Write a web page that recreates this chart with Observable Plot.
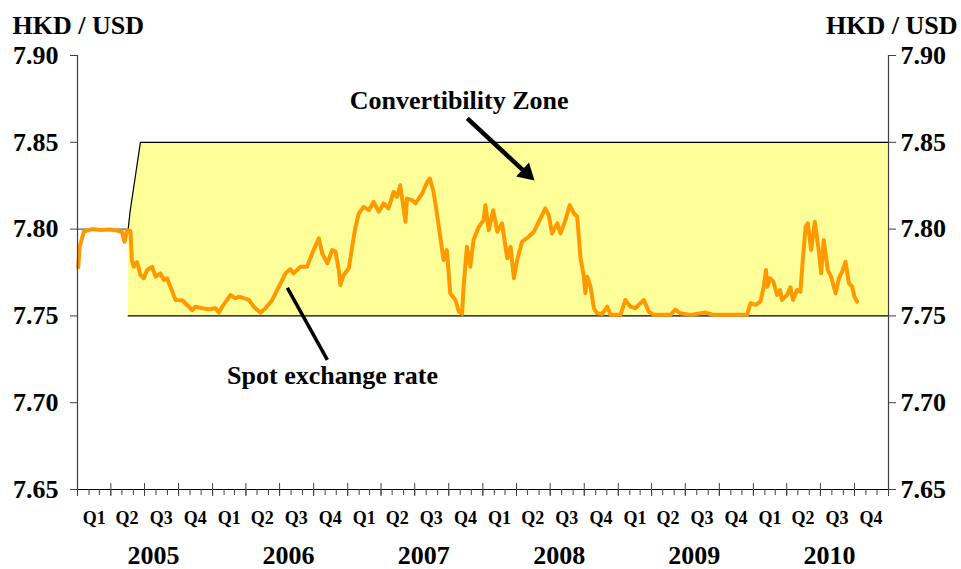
<!DOCTYPE html>
<html><head><meta charset="utf-8">
<script src="https://cdn.jsdelivr.net/npm/d3@7"></script>
<script src="https://cdn.jsdelivr.net/npm/@observablehq/plot@0.6"></script>
<style>body{margin:0;background:#fff} svg{display:block} svg text{font-family:'Liberation Serif','Times New Roman',serif !important;font-weight:bold}</style>
</head><body><div id="chart"></div>
<script>
// ---- data ----
const spotDates = [
"2005-01-03","2005-01-07","2005-01-18","2005-02-09","2005-03-04","2005-03-31","2005-04-21","2005-05-01","2005-05-08","2005-05-15",
"2005-05-24","2005-05-28","2005-06-02","2005-06-11","2005-06-20","2005-06-29","2005-07-08","2005-07-22","2005-07-31","2005-08-13",
"2005-08-22","2005-08-31","2005-09-14","2005-09-23","2005-10-11","2005-10-24","2005-11-07","2005-11-16","2005-12-04","2005-12-22",
"2006-01-09","2006-01-18","2006-01-27","2006-02-09","2006-02-18","2006-03-04","2006-03-13","2006-03-26","2006-04-09","2006-04-22",
"2006-05-10","2006-05-24","2006-06-11","2006-06-29","2006-07-17","2006-07-30","2006-08-08","2006-08-26","2006-09-13","2006-09-27",
"2006-10-15","2006-10-24","2006-11-07","2006-11-20","2006-11-29","2006-12-08","2006-12-12","2006-12-21","2007-01-04","2007-01-13",
"2007-01-22","2007-01-31","2007-02-13","2007-02-27","2007-03-12","2007-03-26","2007-04-08","2007-04-21","2007-05-05","2007-05-14",
"2007-05-23","2007-06-06","2007-06-10","2007-06-24","2007-07-03","2007-07-21","2007-08-04","2007-08-11","2007-08-21","2007-08-30",
"2007-09-08","2007-09-17","2007-09-26","2007-10-05","2007-10-19","2007-10-28","2007-11-06","2007-11-10","2007-11-19","2007-11-28",
"2007-12-07","2007-12-21","2008-01-03","2008-01-08","2008-01-17","2008-01-29","2008-02-09","2008-02-22","2008-03-07","2008-03-16",
"2008-03-25","2008-04-03","2008-04-16","2008-05-04","2008-05-18","2008-05-31","2008-06-18","2008-06-27","2008-07-06","2008-07-20",
"2008-07-29","2008-08-11","2008-08-23","2008-09-03","2008-09-12","2008-09-21","2008-09-30","2008-10-04","2008-10-09","2008-10-18",
"2008-10-27","2008-11-05","2008-11-18","2008-12-02","2008-12-11","2009-01-07","2009-01-20","2009-02-03","2009-02-16","2009-03-11",
"2009-03-24","2009-04-07","2009-05-22","2009-06-04","2009-06-18","2009-07-15","2009-08-24","2009-09-16","2009-12-15","2009-12-24",
"2010-01-07","2010-01-20","2010-01-29","2010-02-04","2010-02-08","2010-02-15","2010-02-24","2010-03-06","2010-03-14","2010-03-19",
"2010-04-02","2010-04-11","2010-04-18","2010-04-29","2010-05-08","2010-05-14","2010-05-22","2010-05-28","2010-06-06","2010-06-16",
"2010-06-27","2010-07-03","2010-07-10","2010-07-21","2010-07-30","2010-08-11","2010-08-20","2010-08-29","2010-09-07","2010-09-16",
"2010-09-25","2010-10-01","2010-10-08"
];
const spotValues = [
7.778,7.790,7.7985,7.800,7.7995,7.7998,7.7990,7.7985,7.7927,7.7995,
7.799,7.782,7.7783,7.781,7.7736,7.7717,7.7764,7.7783,7.7726,7.7745,
7.7707,7.7717,7.764,7.7592,7.759,7.7563,7.7534,7.7553,7.7544,7.7538,
7.7544,7.7519,7.7553,7.7592,7.762,7.7602,7.7611,7.7602,7.7592,7.7553,
7.7519,7.7544,7.7592,7.7668,7.7745,7.777,7.7745,7.7783,7.7783,7.786,
7.7947,7.786,7.7803,7.7879,7.787,7.7764,7.7678,7.7736,7.7774,7.7898,
7.8013,7.809,7.8128,7.8109,7.8157,7.81,7.8148,7.8119,7.8214,7.8186,
7.8253,7.8042,7.8176,7.8167,7.8148,7.8205,7.8272,7.8291,7.8214,7.809,
7.7956,7.7822,7.7879,7.763,7.7592,7.7525,7.7511,7.7668,7.7898,7.7783,
7.7937,7.8013,7.8052,7.8138,7.7994,7.8109,7.7985,7.8033,7.7832,7.7898,
7.7717,7.7822,7.7927,7.7956,7.7985,7.8042,7.8119,7.808,7.7975,7.8033,
7.7975,7.8052,7.8138,7.809,7.8071,7.7832,7.7726,7.763,7.7726,7.7668,
7.7544,7.7515,7.7511,7.7553,7.7506,7.7506,7.7592,7.7553,7.7544,7.7592,
7.7525,7.7506,7.7506,7.7536,7.7515,7.7506,7.7519,7.7506,7.7506,7.7573,
7.7563,7.7582,7.7668,7.7764,7.7668,7.7717,7.7697,7.762,7.7649,7.7592,
7.762,7.7665,7.7592,7.7649,7.764,7.7812,7.8013,7.8033,7.7879,7.8042,
7.787,7.7745,7.7937,7.7764,7.7726,7.763,7.7717,7.7755,7.7812,7.7688,
7.7668,7.7611,7.7582
];
const zoneDates = ["2005-05-18","2005-05-23","2005-05-30","2005-06-06","2005-06-13","2005-06-20","2010-12-31"];
const zoneUpper = [7.80, 7.81, 7.82, 7.83, 7.84, 7.85, 7.85];
const zoneLower = 7.75;
const pegDates = ["2005-01-01", "2005-05-18"];
const pegLevel = 7.80;
const years = [2005, 2006, 2007, 2008, 2009, 2010];
const quarterLabels = ["Q1", "Q2", "Q3", "Q4"];
const yTicks = [7.65, 7.70, 7.75, 7.80, 7.85, 7.90];
const unitLabel = "HKD / USD";
const zoneLabel = {text: "Convertibility Zone", date: "2007-10-29", value: 7.874};
const spotLabel = {text: "Spot exchange rate", date: "2006-11-21", value: 7.7155};
const zoneArrow = {x1: "2007-11-20", y1: 7.8638, x2: "2008-05-09", y2: 7.8299};
const spotPointer = {x1: "2006-07-22", y1: 7.7661, x2: "2006-11-07", y2: 7.7247};

// ---- build ----
const parse = d3.utcParse("%Y-%m-%d");
const spot = spotDates.map((d, i) => ({date: parse(d), value: spotValues[i]}));
const zone = zoneDates.map((d, i) => ({date: parse(d), upper: zoneUpper[i], lower: zoneLower}));
const peg = pegDates.map(d => ({date: parse(d), value: pegLevel}));
const xStart = new Date(Date.UTC(years[0], 0, 1));
const xEnd = new Date(Date.UTC(years[years.length - 1] + 1, 0, 1));
const months = d3.utcMonth.range(xStart, d3.utcDay.offset(xEnd, 1));
const quarters = d3.utcMonth.every(3).range(xStart, d3.utcDay.offset(xEnd, 1));
const qData = years.flatMap(y => quarterLabels.map((q, i) => ({date: new Date(Date.UTC(y, i * 3 + 1, 15)), label: q})));
const yData = years.map(y => ({date: new Date(Date.UTC(y, 6, 1)), label: String(y)}));
const P = o => ({x1: parse(o.x1), y1: o.y1, x2: parse(o.x2), y2: o.y2});
const font = "'Liberation Serif', 'Times New Roman', serif";
const axisColor = "#404040";

const chart = Plot.plot({
  width: 961, height: 569,
  marginLeft: 77, marginRight: 73, marginTop: 55, marginBottom: 80,
  style: {fontFamily: font, fontWeight: "bold", background: "white", color: "black", overflow: "visible"},
  x: {type: "utc", domain: [xStart, xEnd], axis: null},
  y: {domain: [7.65, 7.90], axis: null},
  marks: [
    Plot.areaY(zone, {x: "date", y1: "lower", y2: "upper", fill: "#FFFF99"}),
    Plot.line(zone, {x: "date", y: "upper", stroke: "black", strokeWidth: 1.2}),
    Plot.line(zone, {x: "date", y: "lower", stroke: "black", strokeWidth: 1.2}),
    Plot.line(peg, {x: "date", y: "value", stroke: "#333", strokeWidth: 1}),
    Plot.line(spot, {x: "date", y: "value", stroke: "#FF9900", strokeWidth: 4, strokeLinejoin: "round", strokeLinecap: "round"}),
    Plot.ruleX([xStart, xEnd], {stroke: axisColor, strokeWidth: 1.2}),
    Plot.ruleY([yTicks[0]], {stroke: "black", strokeWidth: 1.2}),
    Plot.axisY({anchor: "left", ticks: yTicks, tickSize: 7, tickPadding: 12, tickFormat: d3.format(".2f"), fontSize: 26, fontWeight: "bold", fontFamily: font, stroke: axisColor}),
    Plot.axisY({anchor: "right", ticks: yTicks, tickSize: 7, tickPadding: 5, tickFormat: d3.format(".2f"), fontSize: 26, fontWeight: "bold", fontFamily: font, stroke: axisColor}),
    Plot.axisX({ticks: months, tickSize: 6, tickFormat: () => "", stroke: axisColor}),
    Plot.axisX({ticks: quarters, tickSize: 7, tickFormat: () => "", stroke: axisColor}),
    Plot.axisX({ticks: quarters, tickSize: -6, tickFormat: () => "", stroke: axisColor}),
    Plot.text(qData, {x: "date", text: "label", frameAnchor: "bottom", dy: 34, fontSize: 18, fontWeight: "bold", fontFamily: font}),
    Plot.text(yData, {x: "date", text: "label", frameAnchor: "bottom", dy: 74, dx: 9, fontSize: 26, fontWeight: "bold", fontFamily: font}),
    Plot.text([unitLabel], {frameAnchor: "top-left", dx: -65, dy: -40, textAnchor: "start", fontSize: 26, fontWeight: "bold", fontFamily: font}),
    Plot.text([unitLabel], {frameAnchor: "top-right", dx: 69, dy: -40, textAnchor: "end", fontSize: 26, fontWeight: "bold", fontFamily: font}),
    Plot.text([zoneLabel], {x: d => parse(d.date), y: "value", text: "text", fontSize: 26, fontWeight: "bold", fontFamily: font}),
    Plot.text([spotLabel], {x: d => parse(d.date), y: "value", text: "text", fontSize: 26, fontWeight: "bold", fontFamily: font}),
    Plot.link([P(zoneArrow)], {x1: "x1", y1: "y1", x2: "x2", y2: "y2", stroke: "black", strokeWidth: 4.5}),
    Plot.dot([P(zoneArrow)], {x: "x2", y: "y2", symbol: "triangle2", r: 9, fill: "black", rotate: 133, dx: -4, dy: -4}),
    Plot.link([P(spotPointer)], {x1: "x1", y1: "y1", x2: "x2", y2: "y2", stroke: "black", strokeWidth: 3.5})
  ]
});
document.getElementById("chart").appendChild(chart);
</script>
</body></html>
